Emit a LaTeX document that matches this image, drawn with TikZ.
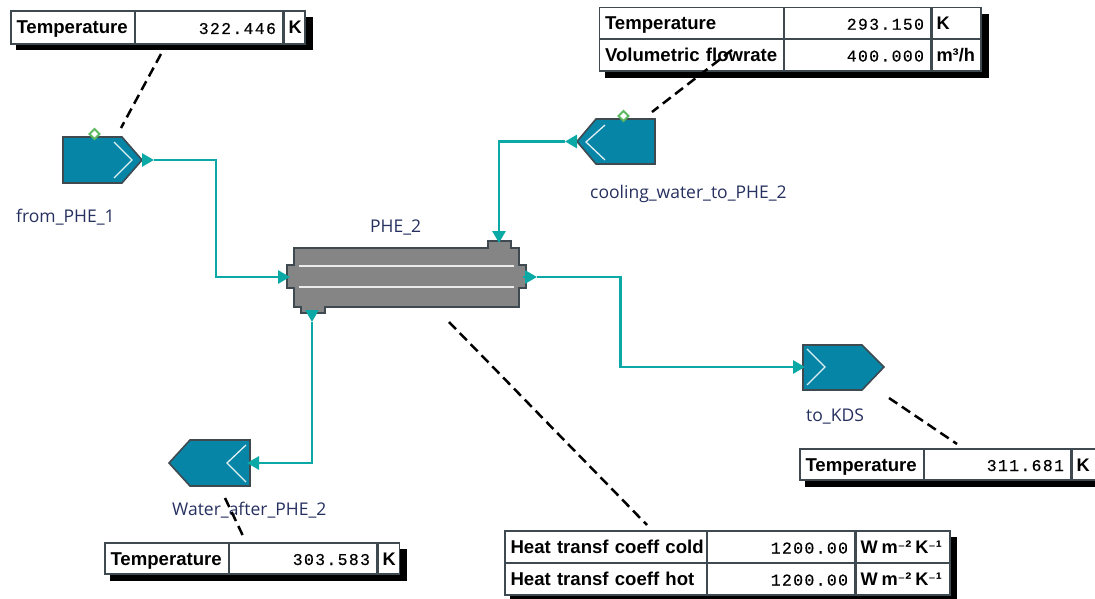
\documentclass[tikz,border=0pt]{standalone}
\usepackage{fontspec}
\setmainfont{Liberation Sans}
\newfontfamily\valfont[LetterSpace=8,FakeBold=0.25]{Liberation Mono}
\newfontfamily\namefont{Open Sans}
\newfontfamily\supfont{DejaVu Sans}
\newcommand{\supminus}{{\supfont\bfseries\fontsize{14}{14}\selectfont ⁻}}
\usetikzlibrary{arrows.meta,calc}
\definecolor{tealline}{HTML}{0BA9A5}
\definecolor{unitblue}{HTML}{0685A6}
\definecolor{edgegray}{HTML}{3F4A50}
\definecolor{phegray}{HTML}{858585}
\definecolor{namecol}{HTML}{26305F}
\definecolor{portgreen}{HTML}{5DB85F}
\tikzset{
  cell/.style={draw=edgegray,line width=1.1pt,fill=white,inner ysep=0pt,inner xsep=5.5pt,outer sep=0pt,text=black,text height=15pt,text depth=2pt},
  lab/.style={cell,align=left,font=\fontsize{18.6}{20}\selectfont\bfseries},
  val/.style={cell,align=right,font=\fontsize{16.5}{20}\selectfont\valfont,execute at end node={\hspace*{1.5pt}}},
  uni/.style={cell,align=left,font=\fontsize{18.2}{20}\selectfont\bfseries,inner xsep=4.5pt},
  shadowbox/.style={fill=black,draw=none},
  vessel/.style={fill=unitblue,draw=edgegray,line width=1.6pt,line join=miter},
  chev/.style={draw=white!88!unitblue,line width=1.3pt},
  anchorbox/.style={inner sep=0pt,outer sep=0pt,draw=none},
  flow/.style={draw=tealline,line width=2.8pt,line join=miter},
  headend/.style={flow,-{Triangle[length=12pt,width=13pt,fill=tealline]}},
  leader/.style={draw=black,line width=2.5pt,dash pattern=on 10pt off 5.5pt},
  unitname/.style={font=\fontsize{17.5}{20}\selectfont\namefont,text=namecol,inner sep=0pt},
  portmark/.style={draw=portgreen,line width=2pt,fill=white}
}
\newcommand{\tcell}[7]{%
  \pgfmathsetmacro{\cw}{#3-#2}\pgfmathsetmacro{\ch}{#5-#4}%
  \pgfmathsetmacro{\cx}{(#2+#3)/2}\pgfmathsetmacro{\cy}{(#4+#5)/2}%
  \pgfmathsetmacro{\tw}{\cw-11}%
  \node[#6,text width=\tw pt,minimum height=\ch pt] (#1) at (\cx,\cy) {\mbox{#7}};}
\newcommand{\coefunit}{W\hspace{4pt}m\supminus²\hspace{4pt}K\supminus¹}
\begin{document}
\begin{tikzpicture}[x=1pt,y=-1pt]
\useasboundingbox (0,0) rectangle (1095,599);
\clip (0,0) rectangle (1095,599);
% shadows
\fill[shadowbox] (16,17) rectangle (313,50);
\fill[shadowbox] (605,14) rectangle (989,78);
\fill[shadowbox] (110,549) rectangle (407,581);
\fill[shadowbox] (805,455) rectangle (1100,487);
\fill[shadowbox] (510,537) rectangle (957,600);
% tables
\tcell{aL}{11}{135}{11}{44}{lab}{Temperature}
\tcell{aV}{135}{283}{11}{44}{val}{322.446}
\tcell{aU}{283}{306}{11}{44}{uni}{K}
\tcell{bL}{599.5}{784}{7.5}{39}{lab}{Temperature}
\tcell{bV}{784}{931}{7.5}{39}{val}{293.150}
\tcell{bU}{931}{982}{7.5}{39}{uni}{K}
\tcell{cL}{599.5}{784}{39}{71}{lab}{Volumetric flowrate}
\tcell{cV}{784}{931}{39}{71}{val}{400.000}
\tcell{cU}{931}{982}{39}{71}{uni}{m³/h}
\tcell{dL}{105}{229}{543}{574}{lab}{Temperature}
\tcell{dV}{229}{377}{543}{574}{val}{303.583}
\tcell{dU}{377}{400.5}{543}{574}{uni}{K}
\tcell{eL}{800}{924}{449}{480}{lab}{Temperature}
\tcell{eV}{924}{1071}{449}{480}{val}{311.681}
\tcell{eU}{1071}{1100}{449}{480}{uni}{K}
\tcell{fL}{505}{707}{531}{563}{lab}{Heat transf coeff cold}
\tcell{fV}{707}{855}{531}{563}{val}{1200.00}
\tcell{fU}{855}{951}{531}{563}{uni}{\coefunit}
\tcell{gL}{505}{707}{563}{595}{lab}{Heat transf coeff hot}
\tcell{gV}{707}{855}{563}{595}{val}{1200.00}
\tcell{gU}{855}{951}{563}{595}{uni}{\coefunit}
% from_PHE_1
\draw[vessel] (63,137) -- (122,137) -- (142,160) -- (122,183) -- (63,183) -- cycle;
\draw[chev] (114,142) -- (132,160) -- (114,178);
\node[anchorbox,minimum width=79pt,minimum height=46pt] (from) at (102.5,160) {};
\draw[portmark] (94.5,129) -- (99.5,134) -- (94.5,139) -- (89.5,134) -- cycle;
\node[unitname,anchor=base west] (fromL) at (16,222) {from\_PHE\_1};
% cooling water
\draw[vessel] (577,141.5) -- (596,119) -- (655,119) -- (655,164) -- (596,164) -- cycle;
\draw[chev] (605,125) -- (586,142) -- (605,160);
\node[anchorbox,minimum width=78pt,minimum height=45pt] (cool) at (616,141.5) {};
\draw[portmark] (623.5,111) -- (628.5,116) -- (623.5,121) -- (618.5,116) -- cycle;
\node[unitname,anchor=base west] (coolL) at (590,198) {cooling\_water\_to\_PHE\_2};
% water after
\draw[vessel] (169,463) -- (190,440) -- (250,440) -- (250,486) -- (190,486) -- cycle;
\draw[chev] (246,445) -- (227,463) -- (246,482);
\node[anchorbox,minimum width=81pt,minimum height=46pt] (after) at (209.5,463) {};
\node[unitname,anchor=base west] (afterL) at (172,515) {Water\_after\_PHE\_2};
% to KDS
\draw[vessel] (803,345) -- (862,345) -- (884,367) -- (862,390) -- (803,390) -- cycle;
\draw[chev] (807,349) -- (825,367) -- (807,385);
\node[anchorbox,minimum width=81pt,minimum height=45pt] (kds) at (843.5,367.5) {};
\node[unitname,anchor=base west] (kdsL) at (806,421) {to\_KDS};
% PHE
\draw[fill=phegray,draw=edgegray,line width=1.5pt] (294,248) -- (488,248) -- (488,241) -- (511,241) -- (511,248) -- (519,248) -- (519,265) -- (526,265) -- (526,288) -- (519,288) -- (519,307) -- (325,307) -- (325,313) -- (301,313) -- (301,307) -- (294,307) -- (294,288) -- (287,288) -- (287,265) -- (294,265) -- cycle;
\draw[white!92!black,line width=1.3pt] (299,266) -- (514,266);
\draw[white!92!black,line width=1.3pt] (299,287) -- (514,287);
\node[anchorbox,minimum width=239pt,minimum height=72pt] (phe) at (406.5,277) {};
\node[unitname,anchor=base west] (pheL) at (370,232) {PHE\_2};
\coordinate (pheTop) at (499,243);
\coordinate (pheBot) at (312,311);
\coordinate (pheBotTip) at (312,322);
\coordinate (pheIn) at (290,277);
\coordinate (pheOut) at (523,277);
\coordinate (pheOutTip) at (537,277);
\coordinate (fromTip) at (154,160);
\coordinate (coolTip) at (565,141.5);
\coordinate (kdsIn) at (805,367);
\coordinate (afterIn) at (247,463);
% flows
\draw[headend] (from.east) -- (fromTip);
\draw[headend] (fromTip) -- (216,160) -- (216,277) -- (pheIn);
\draw[headend] (cool.west) -- (coolTip);
\draw[headend] (coolTip) -- (499,141.5) -- (pheTop);
\draw[headend] (pheOut) -- (pheOutTip);
\draw[headend] (pheOutTip) -- (620.5,277) -- (620.5,367) -- (kdsIn);
\draw[headend] (pheBot) -- (pheBotTip);
\draw[headend] (pheBotTip) -- (312,463) -- (afterIn);
% leaders
\coordinate (l1a) at (161,54); \coordinate (l1b) at (121,128);
\coordinate (l2a) at (732,50); \coordinate (l2b) at (652,112);
\coordinate (l3a) at (225,498); \coordinate (l3b) at (244,538);
\coordinate (l4a) at (449,322); \coordinate (l4b) at (647,525);
\coordinate (l5a) at (889,398); \coordinate (l5b) at (957,444);
\draw[leader] (l1a) -- (l1b);
\draw[leader] (l2a) -- (l2b);
\draw[leader] (l3a) -- (l3b);
\draw[leader] (l4a) -- (l4b);
\draw[leader] (l5a) -- (l5b);
\end{tikzpicture}
\end{document}
